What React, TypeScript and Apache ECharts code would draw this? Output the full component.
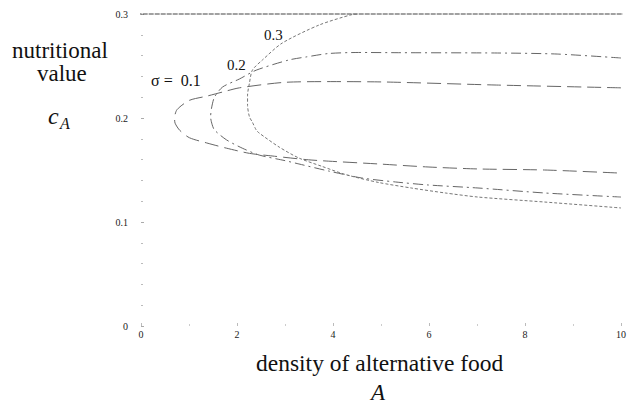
import React, { useEffect, useRef } from "react";
import * as echarts from "echarts";

// x ticks / y ticks
const xTicks = [0, 2, 4, 6, 8, 10];
const yTicks = [0, 0.1, 0.2, 0.3];

// sigma = 0.1 (upper branch right->left, then lower branch left->right)
const s1A = [10, 7.4, 5.1, 4.0, 3.0, 2.05, 1.7, 1.37, 1.01, 0.75, 0.7, 0.71, 0.81, 1.01, 1.37, 1.78, 2.26, 2.73, 3.44, 3.91, 4.95, 5.98, 7.02, 8.41, 10];
const s1C = [0.229, 0.2317, 0.2346, 0.235, 0.2343, 0.229, 0.225, 0.221, 0.217, 0.208, 0.2, 0.195, 0.188, 0.181, 0.176, 0.171, 0.166, 0.1635, 0.16, 0.1585, 0.1558, 0.1529, 0.151, 0.15, 0.147];

// sigma = 0.2
const s2A = [10, 8.67, 7.43, 5.36, 4.53, 3.91, 3.44, 3.08, 2.4, 2.05, 1.7, 1.53, 1.47, 1.45, 1.48, 1.53, 1.78, 2.11, 2.46, 3.0, 3.29, 3.91, 4.6, 5.3, 5.98, 7.02, 8.41, 10];
const s2C = [0.2577, 0.2615, 0.2625, 0.2628, 0.263, 0.262, 0.2587, 0.2558, 0.246, 0.2375, 0.2298, 0.22, 0.2096, 0.201, 0.194, 0.1885, 0.179, 0.171, 0.1644, 0.159, 0.1558, 0.149, 0.1423, 0.1385, 0.1356, 0.1327, 0.1279, 0.124];

// sigma = 0.3
const s3A = [4.5, 4.4, 3.71, 2.94, 2.53, 2.32, 2.26, 2.22, 2.22, 2.26, 2.32, 2.4, 2.46, 2.88, 3.29, 3.77, 4.27, 4.95, 5.63, 6.34, 7.02, 8.41, 10];
const s3C = [0.2998, 0.2995, 0.2894, 0.272, 0.2558, 0.246, 0.2337, 0.222, 0.212, 0.201, 0.196, 0.1885, 0.1856, 0.172, 0.1615, 0.1535, 0.1455, 0.138, 0.1327, 0.1279, 0.124, 0.1192, 0.1135];

// upper limit line
const limitA = [-0.09, 10.1];
const limitC = [0.3, 0.3];

const zip = (a: number[], c: number[]) => a.map((v, i) => [v, c[i]]);

const SERIF = "Liberation Serif";

export default function App() {
  const ref = useRef<HTMLDivElement>(null);
  useEffect(() => {
    if (!ref.current) return;
    const chart = echarts.init(ref.current, undefined, { renderer: "svg" });
    const lineBase = { type: "line", showSymbol: false, symbol: "none", smooth: 0.25, animation: false, clip: false };
    const txt = (text: string, left: number, top: number, size: number, italic = false) => ({
      type: "text",
      left,
      top,
      style: { text, fontFamily: SERIF, fontSize: size, fontStyle: italic ? "italic" : "normal", fill: "#111" },
    });
    chart.setOption({
      animation: false,
      backgroundColor: "#ffffff",
      textStyle: { fontFamily: SERIF },
      grid: { left: 141, right: 5, top: 14, bottom: 80 },
      xAxis: {
        type: "value",
        min: 0,
        max: 10,
        interval: 2,
        axisLine: { show: false },
        axisTick: { show: true, length: 3, inside: true, lineStyle: { color: "#bbb" } },
        minorTick: { show: true, splitNumber: 2, length: 2, lineStyle: { color: "#ccc" } },
        splitLine: { show: false },
        axisLabel: {
          margin: 3,
          fontFamily: SERIF,
          fontSize: 10,
          color: "#222",
          formatter: (v: number) => (xTicks.includes(v) ? String(v) : ""),
        },
      },
      yAxis: {
        type: "value",
        min: 0,
        max: 0.3,
        interval: 0.1,
        offset: 5,
        axisLine: { show: false },
        axisTick: { show: true, length: 3, inside: true, lineStyle: { color: "#aaa" } },
        minorTick: { show: true, splitNumber: 5, length: 2, lineStyle: { color: "#bbb" } },
        splitLine: { show: false },
        axisLabel: {
          margin: 8,
          fontFamily: SERIF,
          fontSize: 10,
          color: "#222",
          formatter: (v: number) => {
            const t = yTicks.find((y) => Math.abs(y - v) < 1e-9);
            if (t === undefined) return "";
            return t === 0 ? "0" : t.toFixed(1);
          },
        },
      },
      series: [
        {
          ...lineBase,
          smooth: false,
          data: zip(limitA, limitC),
          lineStyle: { color: "#444", width: 1.1, type: [5, 1] },
        },
        {
          ...lineBase,
          data: zip(s1A, s1C),
          lineStyle: { color: "#666", width: 1, type: [14, 6] },
        },
        {
          ...lineBase,
          data: zip(s2A, s2C),
          lineStyle: { color: "#666", width: 1, type: [10, 4, 2, 4] },
        },
        {
          ...lineBase,
          data: zip(s3A, s3C),
          lineStyle: { color: "#777", width: 1, type: [3, 2] },
        },
      ],
      graphic: [
        txt("nutritional", 12, 39, 23),
        txt("value", 37, 62, 23),
        txt("c", 48, 104, 24, true),
        txt("A", 60, 115, 16, true),
        txt("σ =  0.1", 151, 72, 16),
        txt("0.2", 227, 57, 15),
        txt("0.3", 264, 27, 15),
        txt("density of alternative food", 256, 351, 23.5),
        txt("A", 371, 381, 23, true),
      ],
    });
    return () => chart.dispose();
  }, []);
  return (
    <div
      ref={ref}
      style={{ position: "absolute", left: 0, top: 0, width: 629, height: 406, background: "#fff" }}
    />
  );
}
